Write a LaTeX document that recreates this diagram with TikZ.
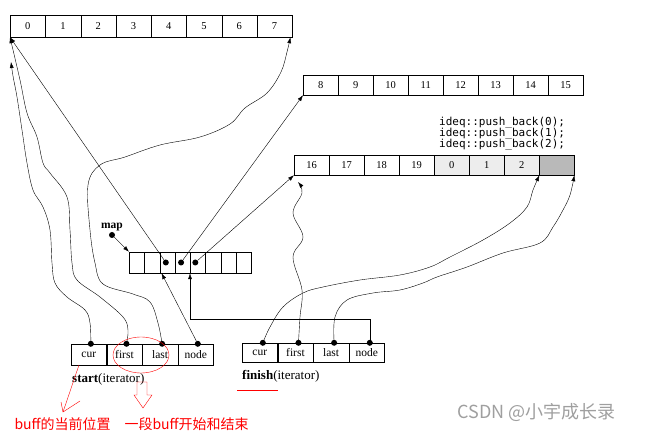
\documentclass[tikz,border=0pt]{standalone}
\usepackage{fontspec}
\setmainfont{Liberation Serif}
\newfontfamily\codefont{DejaVu Sans Mono}
\newfontfamily\cjkfont{Noto Sans CJK SC}
\usetikzlibrary{positioning,shapes,arrows.meta}
\tikzset{
    cell/.style={draw, minimum width=35.25pt, minimum height=22pt, inner sep=0pt, anchor=west, font=\fontsize{10.5}{12}\selectfont},
    slot/.style={draw, minimum width=15.25pt, minimum height=21pt, inner sep=0pt, anchor=west},
    field/.style={draw, minimum width=35.25pt, minimum height=21pt, inner sep=0pt, anchor=west, font=\fontsize{11.5}{12}\selectfont},
    dot/.style={circle, fill=black, inner sep=0pt, minimum size=6pt},
    ptr/.style={-{Latex[length=6pt,width=4pt]}},
    note/.style={red, anchor=west, font=\cjkfont\fontsize{14}{14}\selectfont}
}

\begin{document}
\begin{tikzpicture}[x=1pt, y=-1pt]
    \useasboundingbox (0,0) rectangle (645,435);

    % buffers
    \foreach \i in {0,...,7}
        \node[cell] (t\i) at ({10+35.25*\i},26) {\i};
    \foreach \n [count=\i from 0] in {8,...,15}
        \node[cell, minimum width=35pt, minimum height=20pt] (m\i) at ({303+35*\i},85) {\n};
    \foreach \n/\c [count=\i from 0] in {16/white,17/white,18/white,19/white,0/gray!14,1/gray!14,2/gray!14}
        \node[cell, minimum width=35pt, minimum height=20pt, fill=\c] (b\i) at ({294+35*\i},165) {\n};
    \node[cell, minimum width=35pt, minimum height=20pt, fill=gray!55] (b7) at (539,165) {};

    \node[anchor=north west, inner sep=0pt, align=left, font=\codefont\fontsize{11}{11}\selectfont] (code) at (439,117)
        {ideq::push\_back(0);\\ideq::push\_back(1);\\ideq::push\_back(2);};

    % map
    \foreach \i in {0,...,7}
        \node[slot] (p\i) at ({129+15.25*\i},262.5) {};
    \node[dot] (p2d) at ([xshift=-1.5pt]p2.center) {};
    \node[dot] (p3d) at ([xshift=-1.5pt]p3.center) {};
    \node[dot] (p4d) at ([xshift=-2.5pt]p4.center) {};
    \node[dot, label={[font=\bfseries\fontsize{11.5}{12}\selectfont, inner sep=1pt]above:map}] (mapd) at (112,235) {};

    % start iterator
    \node[field] (scur) at (71,354.5) {cur};
    \node[field] (sfirst) at (scur.east) {first};
    \node[field] (slast) at (sfirst.east) {last};
    \node[field] (snode) at (slast.east) {node};
    \foreach \f in {cur,first,last,node}
        \node[dot] (s\f d) at ([xshift=2pt]s\f.north) {};
    \node[anchor=base west, inner sep=0pt, font=\fontsize{13}{13}\selectfont] (slbl) at (72,382) {\textbf{start}(iterator)};

    % finish iterator
    \node[field, minimum height=19pt] (fcur) at (242,352.5) {cur};
    \node[field, minimum height=19pt] (ffirst) at (fcur.east) {first};
    \node[field, minimum height=19pt] (flast) at (ffirst.east) {last};
    \node[field, minimum height=19pt] (fnode) at (flast.east) {node};
    \foreach \f in {cur,first,last,node}
        \node[dot] (f\f d) at ([xshift=3pt]f\f.north) {};
    \node[anchor=base west, inner sep=0pt, font=\fontsize{13}{13}\selectfont] (flbl) at (242,379) {\textbf{finish}(iterator)};

    \coordinate (curtip) at (11,62);
    \coordinate (firsttip) at (298,182);

    % map pointers
    \draw[ptr] (mapd) -- (p0.north west);
    \draw[ptr] (p2d) -- (t0.south west);
    \draw[ptr] (p3d) -- (m0.south west);
    \draw[ptr] (p4d) -- (b0.south west);

    % start links
    \draw[ptr] plot[smooth, tension=0.6] coordinates {(scurd) (90,323) (85,310) (67,297) (55,283) (52,263) (50,230) (43,207) (33,190) (27,163) (22,130) (17,97) (13,76) (curtip)};
    \draw[ptr] plot[smooth, tension=0.6] coordinates {(sfirstd) (128,330) (123,317) (100,297) (77,280) (72,263) (70,230) (67,197) (50,173) (43,163) (37,137) (27,113) (20,80) (t0.south west)};
    \draw[ptr] plot[smooth, tension=0.6] coordinates {(slastd) (158,323) (150,302) (133,294) (103,284) (95,263) (90,230) (88,185) (100,165) (125,157) (160,145) (200,137) (230,124) (245,108) (267,93) (281,72) (287,52) ([xshift=-2pt]t7.south east)};
    \draw[ptr] (snoded) -- ([xshift=2pt]p2.south west);

    % finish links
    \draw[ptr] plot[smooth, tension=0.6] coordinates {(fcurd) (270,327) (283,307) (303,293) (323,287) (360,280) (400,275) (430,267) (450,257) (483,240) (510,223) (527,207) (533,190) (b6.south east)};
    \draw[ptr] plot[smooth, tension=0.6] coordinates {(ffirstd) (300,317) (302,290) (293,257) (303,237) (293,213) (302,193) (firsttip)};
    \draw[ptr] plot[smooth, tension=0.6] coordinates {(flastd) (335,317) (347,300) (373,293) (400,290) (423,283) (437,277) (467,267) (503,253) (540,243) (553,227) (563,210) (570,195) (b7.south east)};
    \draw[ptr] (fnoded) -- ++(0,-24) -| (p4.south west);

    % red notes
    \draw[red] (141,355) ellipse [x radius=28pt, y radius=18pt];
    \draw[red] (79,365) -- (63,412);
    \draw[red] (61,402) -- (63,412) -- (80,401);
    \draw[red] (137,382) -- (137,395) -- (134,395) -- (143,408) -- (152,395) -- (147,395) -- (147,382) -- cycle;
    \draw[red] (237,390) -- (278,390);
    \node[note] (n1) at (11,424) {buff的当前位置};
    \node[note] (n2) at (121,424) {一段buff开始和结束};

    \node[anchor=west, text=gray!75, font=\cjkfont\fontsize{18}{18}\selectfont] (wm) at (454,413) {CSDN @小宇成长录};
\end{tikzpicture}
\end{document}
